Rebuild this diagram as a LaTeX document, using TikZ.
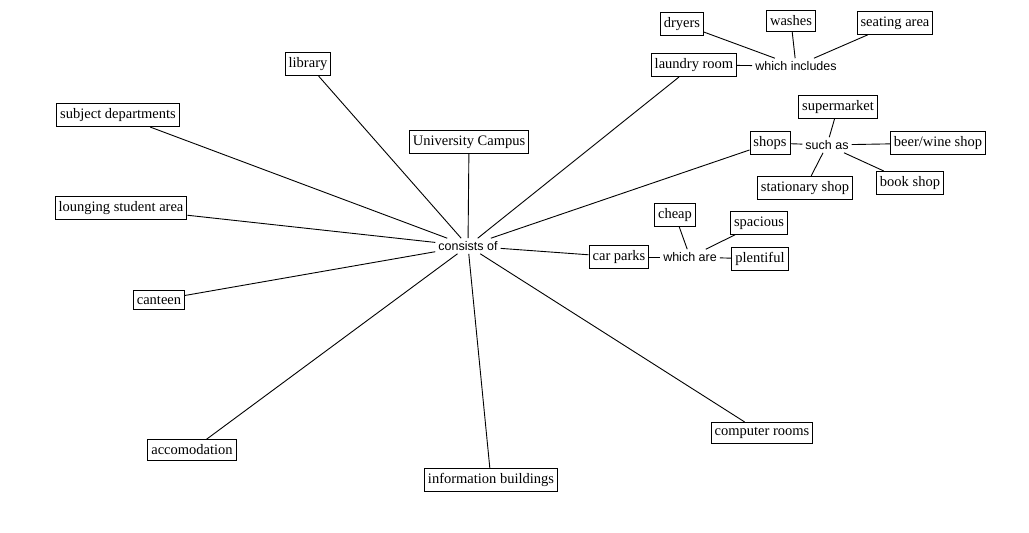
\documentclass[tikz,border=0pt]{standalone}
\usepackage{fontspec}
\setmainfont{Liberation Serif}
\newfontfamily\linkfont{Liberation Sans}
\tikzset{
  box/.style={draw, line width=0.9pt, fill=white, inner xsep=3.5pt, inner ysep=5pt, font=\fontsize{14.5}{16}\selectfont},
  link/.style={inner sep=3pt, font=\linkfont\fontsize{12.5}{14}\selectfont},
  wire/.style={draw, line width=0.9pt}
}
\begin{document}
\begin{tikzpicture}[x=1pt, y=-1pt]
    \useasboundingbox (0,0) rectangle (1029,533);
    % hub
    \node[link] (cons) at (468,246) {consists of};
    \node[box] (campus) at (469,142) {University Campus};
    \node[box] (library) at (308,64) {library};
    \node[box] (subject) at (118,115) {subject departments};
    \node[box] (lounge) at (121,208) {lounging student area};
    \node[box] (canteen) at (159,300) {canteen};
    \node[box] (accom) at (192,450) {accomodation};
    \node[box] (info) at (491,480) {information buildings};
    \node[box] (computer) at (762,433) {computer rooms};
    \node[box] (carparks) at (619,257) {car parks};
    \node[box] (shops) at (770,143) {shops};
    \node[box] (laundry) at (694,65) {laundry room};

    % car parks
    \node[link] (which) at (690,257) {which are};
    \node[box] (cheap) at (675,215) {cheap};
    \node[box] (spacious) at (759,223) {spacious};
    \node[box] (plenty) at (760,259) {plentiful};

    % shops
    \node[link] (such) at (827,145) {such as};
    \node[box] (market) at (838,107) {supermarket};
    \node[box] (beer) at (938,143) {beer/wine shop};
    \node[box] (book) at (910,183) {book shop};
    \node[box] (station) at (805,188) {stationary shop};

    % laundry room
    \node[link] (incl) at (796,66) {which includes};
    \node[box] (dryers) at (682,24) {dryers};
    \node[box] (washes) at (791,21) {washes};
    \node[box] (seating) at (895,23) {seating area};

    \foreach \n in {campus,library,subject,lounge,canteen,accom,info,computer,carparks,shops,laundry}
        \draw[wire] (cons) -- (\n);

    \draw[wire] (carparks) -- (which);
    \foreach \n in {cheap,spacious,plenty}
        \draw[wire] (which) -- (\n);

    \draw[wire] (shops) -- (such);
    \foreach \n in {market,beer,book,station}
        \draw[wire] (such) -- (\n);

    \draw[wire] (laundry) -- (incl);
    \foreach \n in {dryers,washes,seating}
        \draw[wire] (incl) -- (\n);
\end{tikzpicture}
\end{document}
